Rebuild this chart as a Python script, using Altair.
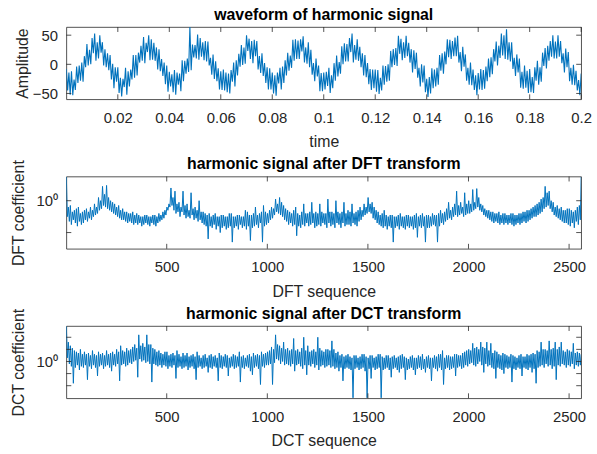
import altair as alt
import numpy as np
import pandas as pd

BLUE = "#0072BD"
INK = "#262626"
FONT = "Liberation Sans"
W, H = 520, 73

# --- time-domain waveform: upper excursion at every ms, lower excursion half a ms later
wave_hi = [-8, -14,
           -12, -26, -4, -2, 3, 14, 35, 25, 45, 53, 38, 50, 38, 26, 19, 16, 1, -5, -5, -23,
           -25, -6, -12, -9, 16, 16, 20, 32, 47, 37, 50, 43, 37, 29, 26, 9, 3, -2, -13, -17,
           -10, -14, -16, 7, 6, 10, 64, 34, 33, 51, 45, 38, 40, 39, 11, 17, 5, -7, -12, -9,
           -14, -16, -10, 3, 7, 18, 33, 29, 50, 44, 40, 42, 40, 14, 19, 2, -5, -7, -14,
           -19, -14, -6, -4, 7, 20, 15, 42, 43, 41, 43, 48, 29, 38, 25, 2, 10, -2, -15, -14,
           -13, -6, -19, 2, 15, 4, 31, 36, 35, 45, 53, 33, 43, 30, 19, 16, 2, -8, -9, -9,
           -10, -23, -2, -3, 0, 23, 26, 28, 49, 44, 38, 49, 37, 26, 24, 20, -6, 0, -2, -25,
           -22, -7, -9, -6, 16, 19, 22, 43, 42, 40, 46, 49, 21, 30, 17, -6, 3, -9, -19,
           -15, -8, -10, -4, 10, 12, 26, 39, 32, 53, 50, 60, 38, 38, 11, 17, 10, -13, -2, -11,
           -8, -22, -5, 6, -5, 20, 28, 32, 40, 50, 39, 50, 40, 19, 27, 21, -6, -1, -11, -27,
           -16]
wave_lo = [-45, -52,
           -53, -44, -32, -28, -30, -5, -2, 0, 19, 6, 10, 20, -2, -5, -10, -26, -41, -30, -49, -55,
           -39, -52, -38, -26, -23, -19, 3, 6, 2, 21, 7, 8, 6, -9, -12, -20, -34, -47, -38, -48,
           -52, -35, -46, -29, -16, -13, -10, 12, 10, 8, 13, 7, 5, -2, -18, -25, -29, -43, -44, -45,
           -48, -50, -30, -38, -19, -4, -1, 1, 23, 9, 2, 14, -9, -15, -20, -32, -43, -43, -50,
           -54, -33, -43, -32, -19, -11, -6, 6, 9, 9, 22, 3, 1, -5, -18, -29, -21, -46, -46, -43,
           -37, -49, -41, -28, -21, -16, 0, 5, 5, 21, 3, 8, 6, -5, -19, -22, -34, -44, -41, -47,
           -51, -45, -35, -30, -28, -5, -1, -3, 18, 7, 11, 14, 3, -14, -8, -23, -38, -31, -48, -56,
           -50, -41, -38, -35, -11, -16, 0, 12, 9, 14, 14, 3, -12, -4, -28, -35, -36, -44, -53,
           -43, -44, -42, -29, -22, -17, 5, -2, 11, 15, 9, 8, 5, -8, -20, -14, -40, -42, -40, -49,
           -48, -49, -28, -35, -30, -3, -7, 6, 13, 10, 10, 13, 2, -14, -5, -29, -35, -36, -45, -53]

# --- DFT magnitude (log10): upper at n = 1, 11, 21, ... and 2560; lower at n = 6, 16, 26, ...
dft_hi = [0.75, -0.2, -0.15, -0.35, -0.3, -0.25, -0.2, -0.4, -0.35, -0.3,
          -0.25, -0.35, -0.2, -0.3, -0.1, -0.2, 0.1, 0.0, 0.45, 0.2,
          0.48, 0.1, 0.0, -0.05, -0.1, -0.2, -0.15, -0.3, -0.25, -0.35,
          -0.35, -0.4, -0.4, -0.35, -0.45, -0.4, -0.45, -0.5, -0.5, -0.45,
          -0.45, -0.5, -0.5, -0.45, -0.45, -0.5, -0.4, -0.45, -0.35, -0.3,
          -0.2, -0.1, 0.4, 0.1, 0.3, -0.1, -0.05, -0.2, 0.3, -0.15,
          -0.1, -0.3, 0.25, -0.25, -0.2, -0.3, 0.0, -0.35, -0.35, -0.4,
          -0.45, -0.4, -0.5, -0.45, -0.4, -0.5, -0.5, -0.45, -0.45, -0.5,
          -0.5, -0.4, -0.4, -0.5, -0.5, -0.45, -0.45, -0.5, -0.5, -0.3,
          -0.35, -0.45, -0.45, -0.4, -0.2, -0.45, -0.4, -0.35, -0.15, -0.35,
          -0.4, -0.3, -0.2, -0.25, 0.05, -0.1, 0.1, -0.05, -0.15, -0.25,
          -0.3, -0.35, -0.4, -0.3, -0.2, -0.4, -0.45, -0.35, -0.1, -0.4,
          -0.4, -0.35, -0.05, -0.4, -0.35, -0.4, -0.1, -0.35, -0.4, -0.4,
          0.05, -0.35, -0.35, -0.4, 0.0, -0.35, -0.4, -0.35, -0.05, -0.4,
          -0.3, -0.35, -0.1, -0.4, -0.35, -0.3, -0.2, -0.3, -0.1, -0.2,
          0.1, -0.1, -0.05, -0.2, -0.3, -0.35, -0.45, -0.4, -0.3, -0.45,
          -0.5, -0.45, -0.45, -0.5, -0.5, -0.45, -0.4, -0.5, -0.5, -0.45,
          -0.45, -0.5, -0.5, -0.45, -0.4, -0.5, -0.45, -0.4, -0.5, -0.45,
          -0.45, -0.5, -0.4, -0.45, -0.45, -0.4, -0.3, -0.4, -0.35, -0.25,
          -0.05, -0.3, -0.2, -0.1, 0.3, -0.15, -0.05, -0.2, 0.25, -0.1,
          0.0, -0.1, 0.35, -0.05, 0.38, 0.1, -0.1, -0.15, -0.25, -0.3,
          -0.3, -0.35, -0.35, -0.4, -0.4, -0.35, -0.45, -0.4, -0.4, -0.45,
          -0.45, -0.4, -0.4, -0.45, -0.45, -0.4, -0.4, -0.35, -0.35, -0.3,
          -0.3, -0.25, -0.2, -0.15, -0.1, -0.05, 0.05, 0.1, 0.45, 0.25,
          0.3, 0.0, -0.05, -0.2, -0.15, -0.25, -0.2, -0.3, -0.3, -0.25,
          -0.25, -0.3, -0.35, -0.3, -0.2, -0.15,
          0.75]
dft_lo = [-0.5, -0.65, -0.75, -0.6, -0.7, -0.8, -0.65, -0.75, -0.7, -0.6,
          -0.65, -0.55, -0.6, -0.5, -0.45, -0.4, -0.3, -0.25, -0.15, -0.2,
          -0.25, -0.3, -0.35, -0.4, -0.45, -0.5, -0.55, -0.6, -0.6, -0.65,
          -0.7, -0.65, -0.7, -0.75, -0.7, -0.75, -0.7, -0.8, -0.75, -0.7,
          -0.75, -0.8, -0.7, -0.75, -0.8, -0.7, -0.65, -0.6, -0.55, -0.45,
          -0.3, -0.2, -0.15, -0.3, -0.4, -0.35, -0.5, -0.35, -0.45, -0.55,
          -0.5, -0.55, -0.45, -0.6, -0.55, -0.65, -0.6, -0.7, -0.75, -0.8,
          -1.2, -0.8, -0.85, -0.75, -0.9, -0.8, -1.0, -0.85, -0.8, -0.9,
          -0.85, -0.8, -1.3, -0.85, -0.8, -0.9, -0.75, -0.85, -0.8, -0.9,
          -0.8, -1.25, -0.85, -0.8, -0.75, -0.85, -0.7, -1.3, -0.8, -0.75,
          -0.7, -0.6, -0.55, -0.45, -0.35, -0.4, -0.45, -0.5, -0.6, -0.65,
          -0.75, -0.7, -0.8, -0.75, -1.1, -0.8, -0.85, -0.75, -0.8, -0.7,
          -0.8, -0.75, -0.7, -0.85, -0.8, -0.75, -0.8, -0.7, -0.75, -0.85,
          -0.7, -0.8, -0.75, -0.85, -0.7, -0.75, -0.85, -0.7, -0.8, -0.75,
          -0.75, -0.8, -0.7, -0.75, -0.8, -0.65, -0.6, -0.5, -0.45, -0.4,
          -0.35, -0.4, -0.55, -0.6, -0.7, -0.75, -0.8, -0.85, -0.8, -0.9,
          -0.8, -0.85, -1.3, -0.85, -0.8, -0.9, -0.8, -0.85, -0.9, -0.8,
          -0.85, -0.8, -0.9, -0.85, -1.15, -0.8, -0.85, -0.8, -1.3, -0.85,
          -0.85, -0.8, -0.75, -0.8, -1.3, -0.8, -0.7, -0.75, -0.65, -0.6,
          -0.55, -0.6, -0.5, -0.45, -0.5, -0.45, -0.4, -0.5, -0.45, -0.4,
          -0.4, -0.35, -0.3, -0.25, -0.2, -0.3, -0.35, -0.45, -0.5, -0.55,
          -0.6, -0.65, -0.7, -0.65, -0.7, -0.75, -0.7, -0.75, -0.7, -0.75,
          -0.7, -0.75, -0.8, -0.75, -0.7, -0.75, -0.7, -0.65, -0.7, -0.65,
          -0.6, -0.55, -0.5, -0.5, -0.45, -0.4, -0.35, -0.25, -0.2, -0.15,
          -0.25, -0.35, -0.45, -0.5, -0.55, -0.6, -0.65, -0.7, -0.7, -0.75,
          -0.8, -0.7, -0.85, -0.65, -0.75, -0.6]

# --- DCT magnitude (log10), same sampling of n as the DFT lists
dct_hi = [2.9, 1.6, 1.3, 1.1, 0.9, 0.8, 0.7, 1.0, 0.6, 0.8,
          0.6, 0.7, 0.5, 0.9, 0.6, 0.5, 0.8, 0.6, 0.7, 0.5,
          0.9, 0.6, 0.7, 0.8, 0.6, 1.0, 0.8, 1.3, 0.9, 0.8,
          1.1, 0.9, 1.0, 1.2, 1.4, 1.1, 2.2, 1.3, 1.5, 1.2,
          2.2, 1.4, 1.4, 1.1, 1.0, 0.8, 0.9, 0.7, 0.6, 0.8,
          0.8, 0.5, 0.6, 0.7, 0.5, 0.9, 0.6, 0.4, 0.7, 0.5,
          0.7, 0.4, 0.5, 0.6, 0.4, 0.8, 0.5, 0.3, 0.5, 0.6,
          0.3, 0.5, 0.6, 0.4, 0.5, 0.3, 0.7, 0.5, 0.4, 0.6,
          0.5, 0.3, 0.4, 0.6, 0.5, 0.4, 0.8, 0.4, 0.5, 0.3,
          0.5, 0.6, 0.4, 0.7, 0.5, 0.6, 0.5, 0.8, 0.6, 0.7,
          0.8, 0.9, 1.2, 1.0, 2.2, 1.4, 1.3, 1.1, 1.6, 1.0,
          1.1, 0.9, 1.0, 1.9, 0.9, 1.0, 0.8, 1.1, 2.0, 0.9,
          1.3, 0.8, 0.9, 1.0, 0.8, 2.0, 1.1, 0.9, 0.8, 1.0,
          1.0, 0.9, 1.7, 1.0, 0.7, 0.8, 0.5, 0.6, 0.4, 0.5,
          0.6, 0.4, 0.3, 0.5, 0.5, 0.3, 0.4, 0.6, 0.6, 0.4,
          0.3, 0.5, 0.5, 0.3, 0.4, 0.6, 0.6, 0.4, 0.3, 0.5,
          0.5, 0.3, 0.4, 0.5, 0.3, 0.4, 0.5, 0.6, 0.4, 0.3,
          0.2, 0.4, 0.5, 0.3, 0.3, 0.5, 0.4, 0.6, 0.2, 0.4,
          0.5, 0.3, 0.3, 0.5, 0.4, 0.6, 0.6, 0.9, 0.3, 0.5,
          0.5, 0.4, 0.4, 0.6, 0.6, 0.5, 0.5, 0.7, 0.8, 0.9,
          1.0, 0.9, 1.5, 1.1, 1.2, 1.0, 1.6, 1.2, 1.1, 1.6,
          0.9, 1.5, 0.7, 0.9, 0.8, 0.6, 0.5, 0.7, 0.6, 0.5,
          0.4, 0.6, 0.5, 0.4, 0.3, 0.5, 0.6, 0.4, 0.4, 0.6,
          0.5, 0.6, 0.7, 0.6, 0.9, 0.8, 1.6, 1.0, 1.0, 0.9,
          1.7, 1.0, 1.1, 1.6, 1.0, 1.2, 1.6, 0.9, 0.8, 1.0,
          0.9, 0.8, 1.5, 0.7, 0.8, 0.7,
          0.6]
dct_lo = [0.3, -0.2, -0.4, -1.8, -0.5, -0.3, -0.7, -0.4, -0.5, -0.3,
          -1.5, -0.4, -0.6, -0.3, -0.5, -1.2, -0.4, -0.3, -0.6, -0.4,
          -0.3, -0.5, -0.8, -0.3, -0.4, -0.2, -1.6, -0.3, -0.2, -0.4,
          -0.3, -0.1, -0.2, 0.0, 0.1, -1.3, 0.2, 0.0, 0.1, -0.1,
          0.0, -0.2, -1.7, -0.2, -0.3, -0.4, -0.3, -0.5, -0.3, -0.4,
          -0.6, -0.4, -0.5, -0.3, -1.4, -0.5, -0.4, -0.6, -0.5, -0.4,
          -0.7, -0.5, -0.4, -0.6, -1.5, -0.5, -0.4, -0.6, -0.5, -0.4,
          -0.9, -0.5, -0.6, -0.4, -0.5, -1.6, -0.5, -0.6, -0.4, -0.5,
          -1.2, -0.5, -0.4, -0.6, -0.5, -0.4, -1.7, -0.5, -0.6, -0.4,
          -0.5, -0.8, -1.1, -0.5, -0.4, -0.6, -1.9, -0.4, -0.5, -0.3,
          -0.3, -0.2, -1.9, -0.1, 0.2, 0.1, -0.2, 0.0, -0.3, -0.2,
          -0.3, -0.4, -0.2, -0.8, -0.3, -0.2, -0.4, -0.6, -0.3, -1.1,
          -0.3, -0.4, -0.2, -0.5, -0.3, -0.7, -0.4, -0.3, -0.5, -0.4,
          -0.3, -0.5, -0.4, -0.6, -0.5, -0.8, -0.5, -1.6, -0.6, -0.5,
          -0.6, -0.7, -3.0, -0.6, -0.5, -0.7, -0.6, -0.5, -0.8, -3.0,
          -0.6, -1.4, -0.5, -0.7, -0.6, -0.5, -3.0, -0.7, -0.6, -0.5,
          -0.7, -1.3, -0.6, -0.5, -0.7, -0.9, -0.6, -0.5, -1.5, -0.7,
          -0.6, -0.5, -0.7, -1.1, -0.6, -0.5, -0.7, -0.6, -0.9, -0.5,
          -0.6, -1.6, -0.5, -0.6, -0.8, -0.5, -0.7, -1.9, -0.6, -0.5,
          -0.7, -0.6, -0.5, -1.2, -0.5, -0.4, -0.6, -0.5, -0.3, -0.4,
          -0.2, -0.1, -0.3, -0.4, -0.2, 0.0, -0.3, -0.9, -0.2, -0.4,
          -0.3, -0.5, -0.6, -1.4, -0.5, -0.6, -0.7, -1.0, -0.5, -0.6,
          -0.5, -1.7, -0.6, -0.7, -0.5, -0.6, -1.2, -0.5, -0.6, -0.7,
          -0.5, -0.9, -0.6, -1.8, -0.5, -0.4, -0.3, -0.5, -0.2, -0.4,
          -0.3, -0.6, -0.4, -1.5, -0.3, -0.4, -0.2, -0.3, -0.5, -0.3,
          -0.4, -0.2, -0.6, -0.3, -0.4, -0.3]

time_ticks = [0.02, 0.04, 0.06, 0.08, 0.1, 0.12, 0.14, 0.16, 0.18, 0.2]
amp_ticks = [-50, 0, 50]
seq_ticks = [500, 1000, 1500, 2000, 2500]
dft_yticks = [0.1, 1]
dct_yticks = [0.01, 0.1, 1, 10, 100]


def wave_frame():
    t_hi = [0.001 * k for k in range(len(wave_hi))]
    t_lo = [0.001 * k + 0.0005 for k in range(len(wave_lo))]
    df = pd.DataFrame({"x": t_hi + t_lo, "y": wave_hi + wave_lo})
    return df.sort_values("x")


def seq_frame(hi, lo):
    n_hi = [1 + 10 * k for k in range(len(hi) - 1)] + [2560]
    n_lo = [6 + 10 * k for k in range(len(lo))]
    df = pd.DataFrame({"x": n_hi + n_lo, "y": np.power(10.0, hi + lo)})
    return df.sort_values("x")


def panel(df, title, xtitle, ytitle, xdom, ydom, xticks, yticks,
          ylog=False, xfmt="d", ylabel=None, ytitle_x=-44, lw=1.0):
    yscale = alt.Scale(domain=ydom, type="log" if ylog else "linear", nice=False, zero=False)
    xscale = alt.Scale(domain=xdom, nice=False, zero=False)
    yaxis_kw = dict(values=yticks, title=ytitle, ticks=False, tickSize=0, domain=False,
                    grid=False, labelPadding=9, titleX=ytitle_x, titleY=H / 2,
                    titleBaseline="middle", titleAngle=-90)
    if ylabel is not None:
        yaxis_kw["labelExpr"] = ylabel
    yaxis = alt.Axis(**yaxis_kw)
    xaxis = alt.Axis(values=xticks, format=xfmt, title=xtitle, ticks=False, tickSize=0,
                     domain=False, grid=False, labelPadding=11, titlePadding=9,
                     labelFlush=False)
    line = alt.Chart(df).mark_line(color=BLUE, strokeWidth=lw, clip=True).encode(
        x=alt.X("x:Q", scale=xscale, axis=xaxis),
        y=alt.Y("y:Q", scale=yscale, axis=yaxis),
    )
    xt = pd.DataFrame({"x": xticks})
    yt = pd.DataFrame({"y": yticks})
    rule = dict(color=INK, strokeWidth=0.8)
    # inward tick marks on all four sides of the box
    xb = alt.Chart(xt).mark_rule(**rule).encode(
        x=alt.X("x:Q", scale=xscale, axis=xaxis), y=alt.value(H), y2=alt.value(H - 5))
    xtp = alt.Chart(xt).mark_rule(**rule).encode(
        x=alt.X("x:Q", scale=xscale, axis=xaxis), y=alt.value(0), y2=alt.value(5))
    yl = alt.Chart(yt).mark_rule(**rule).encode(
        y=alt.Y("y:Q", scale=yscale, axis=yaxis), x=alt.value(0), x2=alt.value(5))
    yr = alt.Chart(yt).mark_rule(**rule).encode(
        y=alt.Y("y:Q", scale=yscale, axis=yaxis), x=alt.value(W), x2=alt.value(W - 5))
    # panel heading, set just above the box
    head = alt.Chart(pd.DataFrame({"t": [title]})).mark_text(
        font=FONT, fontSize=16, fontWeight="bold", color="black",
        align="center", baseline="alphabetic",
    ).encode(x=alt.value(W / 2), y=alt.value(-7.5), text="t:N")
    return alt.layer(line, xb, xtp, yl, yr, head).properties(width=W, height=H)


p1 = panel(wave_frame(), "waveform of harmonic signal", "time", "Amplitude",
           [0, 0.2], [-60, 64], time_ticks, amp_ticks, xfmt=".2~f", ytitle_x=-44, lw=1.1)
p2 = panel(seq_frame(dft_hi, dft_lo), "harmonic signal after DFT transform",
           "DFT sequence", "DFT coefficient", [1, 2560],
           [10 ** -1.51, 10 ** 0.76], seq_ticks, dft_yticks, ylog=True,
           ylabel="datum.value == 1 ? '10⁰' : ''", ytitle_x=-48)
p3 = panel(seq_frame(dct_hi, dct_lo), "harmonic signal after DCT transform",
           "DCT sequence", "DCT coefficient", [1, 2560],
           [10 ** -3.04, 10 ** 2.93], seq_ticks, dct_yticks, ylog=True,
           ylabel="datum.value == 1 ? '10⁰' : ''", ytitle_x=-48)

# panels are stacked by their plot areas so the rotated axis titles may overlap neighbours
chart = alt.vconcat(p1, p2, p3, spacing=78, bounds="flush").properties(
    padding={"left": 10, "top": 4, "right": 5, "bottom": 4}
).configure_view(stroke=INK, strokeWidth=0.8).configure_axis(
    labelFont=FONT, labelFontSize=15, labelColor=INK,
    titleFont=FONT, titleFontSize=16, titleFontWeight="normal", titleColor=INK,
)

chart.save("out.html", embed_options={"renderer": "svg", "actions": False})
